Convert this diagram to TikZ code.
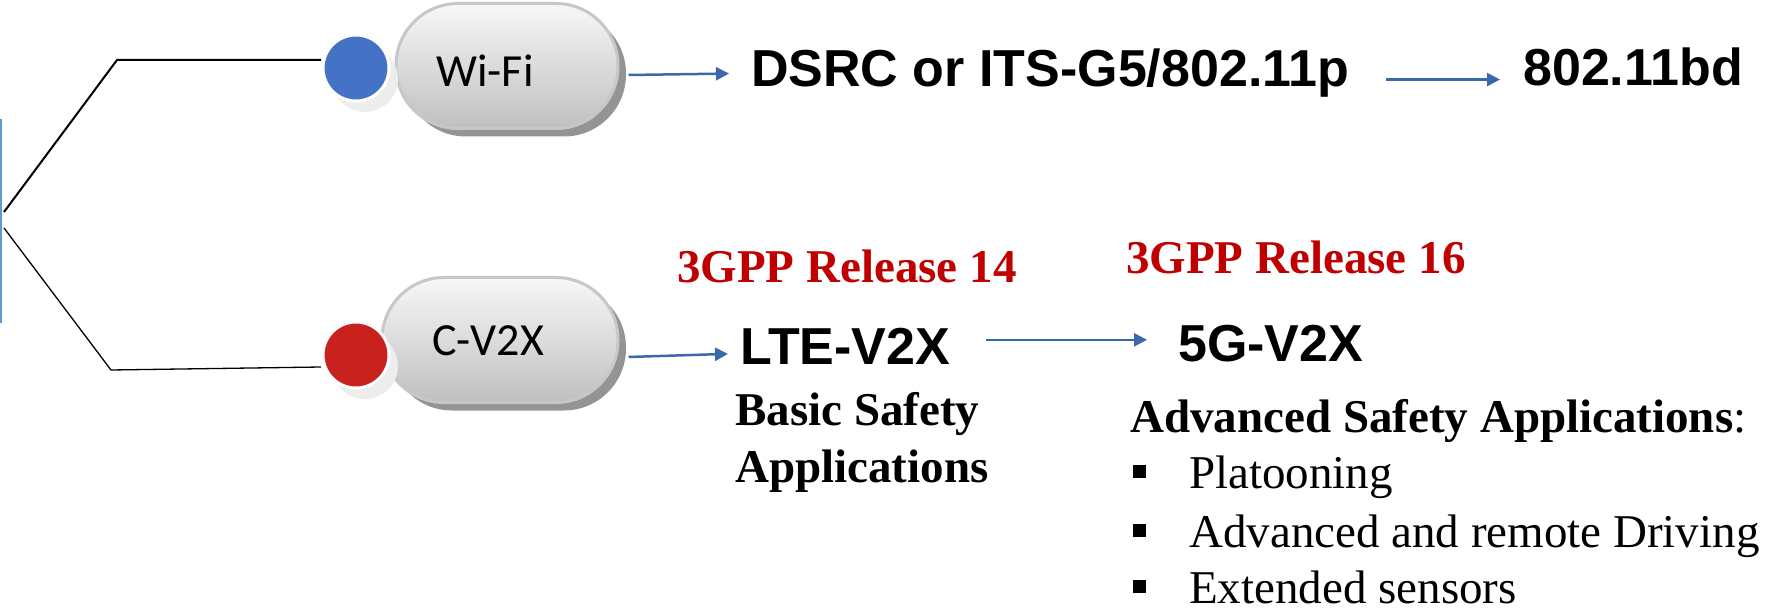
\documentclass[tikz,border=0pt]{standalone}
\usepackage{fontspec}
\setmainfont{Liberation Serif}
\newfontfamily\arialfont{Liberation Sans}
\newfontfamily\calibrifont{Carlito}
\usepackage{tikz}
\usetikzlibrary{arrows.meta,shadows,calc}
\definecolor{dotblue}{HTML}{4472C4}
\definecolor{dotred}{HTML}{C9211E}
\definecolor{relred}{HTML}{C00000}
\definecolor{flowblue}{RGB}{58,104,170}
\definecolor{edgeblue}{HTML}{5B9BD5}

\begin{document}
\begin{tikzpicture}[x=1pt,y=-1pt]
    \tikzstyle{pill}=[draw=black!22,line width=3pt,rounded corners=62pt,top color=black!3,bottom color=black!25,minimum height=125pt,inner sep=0pt,drop shadow={shadow xshift=8pt,shadow yshift=-8pt,fill=black!42,opacity=1}];
    \tikzstyle{dot}=[circle,draw=white,line width=3pt,minimum size=66pt,inner sep=0pt,drop shadow={shadow xshift=9pt,shadow yshift=-11pt,fill=black!7,opacity=1}];
    \tikzstyle{pilltext}=[font=\calibrifont\fontsize{46}{55}\selectfont,inner sep=0pt];
    \tikzstyle{flow}=[flowblue,line width=2.5pt,-{Triangle[length=13pt,width=13pt]}];
    \tikzstyle{big}=[font=\arialfont\bfseries\fontsize{52}{60}\selectfont,inner sep=0pt,anchor=base west];
    \tikzstyle{rel}=[font=\bfseries\fontsize{47}{56}\selectfont,text=relred,inner sep=0pt,anchor=base west];
    \tikzstyle{txt}=[font=\fontsize{47}{57}\selectfont,inner sep=0pt,anchor=base west];
    \useasboundingbox (0,0) rectangle (1777,609);
    %left
    \draw[edgeblue,line width=2.5pt] (1,119) -- (1,323);
    \coordinate (fork) at (4,220);
    %wifi
    \node[pill,minimum width=222pt] (wifi) at (507,66) {};
    \node[pilltext] (wifilbl) at (485,71) {Wi-Fi};
    \draw[line width=2pt] ([yshift=8pt]fork) -- (117,60) -- ([yshift=8pt,xshift=-2pt]$(356,68)+(-33,0)$);
    \node[dot,fill=dotblue] (wifidot) at (356,68) {};
    %c-v2x
    \node[pill,minimum width=236pt] (cv2x) at (500,340) {};
    \node[pilltext] (cv2xlbl) at (488,341) {C-V2X};
    \draw[line width=1.3pt] ([yshift=-8pt]fork) -- (111,370) -- ([yshift=-12pt,xshift=-2pt]$(356,355)+(-33,0)$);
    \node[dot,fill=dotred] (cv2xdot) at (356,355) {};
    %wifi line
    \node[big] (dsrc) at (751,87) {DSRC or ITS-G5/802.11p};
    \node[big] (bd) at (1523,86) {802.11bd};
    \draw[flow] ($(wifi.east)+(9,9)$) -- ($(dsrc.west)+(-22,0)$);
    \draw[flow] ($(dsrc.east)+(36,6)$) -- ($(dsrc.east -| bd.west)+(-23,6)$);
    %cellular line
    \node[rel] (rel14) at (677,283) {3GPP Release 14};
    \node[rel] (rel16) at (1126,274) {3GPP Release 16};
    \node[big] (lte) at (740,365) {LTE-V2X};
    \node[big] (fiveg) at (1178,362) {5G-V2X};
    \draw[flow] ($(cv2x.east)+(9,17)$) -- ($(lte.west)+(-12,7)$);
    \draw[flow] ($(lte.east)+(36,-7)$) -- ($(lte.east -| fiveg.west)+(-31,-7)$);
    %applications
    \node[txt,font=\bfseries\fontsize{47}{57}\selectfont] (basic) at (735,425) {Basic Safety};
    \node[txt,font=\bfseries\fontsize{47}{57}\selectfont] (basic2) at (735,482) {Applications};
    \node[txt] (adv) at (1130,432) {\textbf{Advanced Safety Applications}:};
    \node[txt] (item1) at (1133,488) {\makebox[56pt][l]{\rule[10pt]{13pt}{13pt}}Platooning};
    \node[txt] (item2) at (1133,547) {\makebox[56pt][l]{\rule[10pt]{13pt}{13pt}}Advanced and remote Driving};
    \node[txt] (item3) at (1133,603) {\makebox[56pt][l]{\rule[10pt]{13pt}{13pt}}Extended sensors};
\end{tikzpicture}
\end{document}
